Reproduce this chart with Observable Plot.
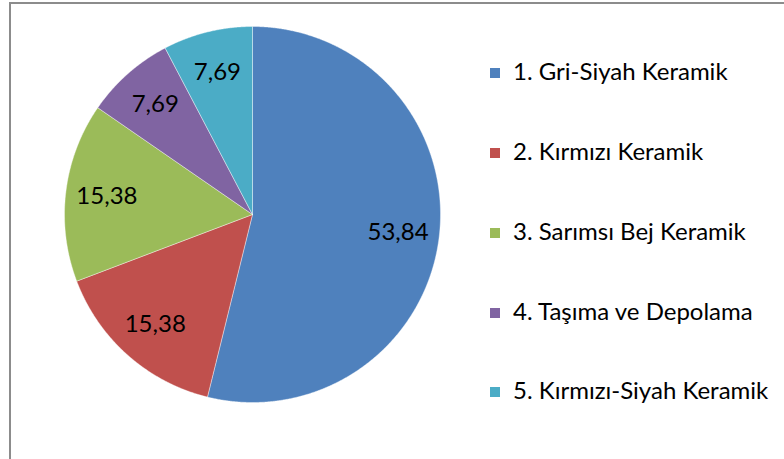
<!DOCTYPE html>
<html><head><meta charset="utf-8">
<script src="https://cdn.jsdelivr.net/npm/d3@7"></script>
<script src="https://cdn.jsdelivr.net/npm/@observablehq/plot@0.6"></script>
<style>
html,body{margin:0;padding:0;background:#fff;}
#chart{position:relative;width:784px;height:459px;overflow:hidden;font-family:Lato,"Noto Sans",sans-serif;}
#frame{position:absolute;left:9px;top:2px;width:800px;height:455px;border-left:2px solid #8c8c8c;border-top:2px solid #8c8c8c;border-bottom:1px solid #e6e6e6;}
#plot{position:absolute;left:0;top:0;}
#legend{position:absolute;left:490px;top:31px;}
.row{height:79.75px;display:flex;align-items:center;font-size:24px;color:#000;white-space:nowrap;}
.sw{width:10px;height:10px;margin-right:13px;margin-top:5px;flex:none;}
</style></head>
<body><div id="chart"><div id="frame"></div><div id="plot"></div><div id="legend"></div></div>
<script>
const categories = ["1. Gri-Siyah Keramik","2. Kırmızı Keramik","3. Sarımsı Bej Keramik","4. Taşıma ve Depolama","5. Kırmızı-Siyah Keramik"];
const values = [53.84, 15.38, 15.38, 7.69, 7.69];
const valueLabels = ["53,84","15,38","15,38","7,69","7,69"];
const colors = ["#4F81BD","#C0504D","#9BBB59","#8064A2","#4BACC6"];

const W = 784, H = 459, cx = 252, cy = 214, R = 188;
const arcs = d3.pie().sort(null).value(d => d)(values);
const polys = [];
arcs.forEach((a, i) => {
  polys.push({cat: categories[i], x: 0, y: 0});
  const n = Math.max(4, Math.ceil((a.endAngle - a.startAngle) / 0.005));
  for (let k = 0; k <= n; k++) {
    const t = a.startAngle + (a.endAngle - a.startAngle) * k / n;
    polys.push({cat: categories[i], x: Math.sin(t), y: Math.cos(t)});
  }
  polys.push({cat: categories[i], x: 0, y: 0});
});
const lr = 0.78;
const labelData = arcs.map((a, i) => {
  const m = (a.startAngle + a.endAngle) / 2;
  return {label: valueLabels[i], x: lr * Math.sin(m), y: lr * Math.cos(m)};
});

const plot = Plot.plot({
  width: W, height: H,
  margin: 0,
  x: {domain: [-cx / R, (W - cx) / R], axis: null},
  y: {domain: [-(H - cy) / R, cy / R], axis: null},
  color: {domain: categories, range: colors},
  style: {background: "transparent", fontFamily: "Lato, 'Noto Sans', sans-serif"},
  marks: [
    Plot.line(polys, {x: "x", y: "y", z: "cat", fill: "cat", stroke: "white", strokeWidth: 0.4, curve: "linear"}),
    Plot.text(labelData, {x: "x", y: "y", text: "label", fontSize: 24, fill: "black"})
  ]
});
document.getElementById("plot").appendChild(plot);

const leg = document.getElementById("legend");
categories.forEach((c, i) => {
  const row = document.createElement("div");
  row.className = "row";
  const sw = document.createElement("div");
  sw.className = "sw";
  sw.style.background = colors[i];
  const tx = document.createElement("span");
  tx.textContent = c;
  row.appendChild(sw); row.appendChild(tx);
  leg.appendChild(row);
});
</script>
</body></html>
